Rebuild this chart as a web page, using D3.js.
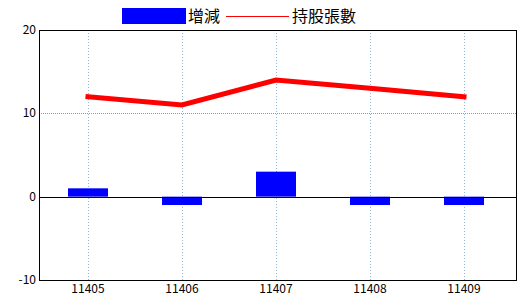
<!DOCTYPE html>
<html>
<head>
<meta charset="utf-8">
<script src="https://cdn.jsdelivr.net/npm/d3@7"></script>
<style>
  body { margin: 0; background: #fff; }
  text { font-family: "Noto Sans CJK TC", "DejaVu Sans", sans-serif; fill: #000; }
</style>
</head>
<body>
<div id="chart"></div>
<script>
var categories = ["11405", "11406", "11407", "11408", "11409"];
var changeValues = [1, -1, 3, -1, -1];      // 增減
var holdingValues = [12, 11, 14, 13, 12];   // 持股張數
var yTicks = [-10, 0, 10, 20];

var width = 520, height = 300;
var plotLeft = 39, plotRight = 516, plotTop = 30, plotBottom = 280;

var svg = d3.select("#chart").append("svg")
    .attr("width", width)
    .attr("height", height);

var x = d3.scalePoint().domain(categories).range([88, 464]);
var y = d3.scaleLinear().domain([-10, 20]).range([plotBottom, plotTop]);

// vertical grid
svg.append("g").selectAll("line")
    .data(categories)
    .enter().append("line")
    .attr("x1", function(d) { return x(d) + 0.5; })
    .attr("x2", function(d) { return x(d) + 0.5; })
    .attr("y1", plotTop)
    .attr("y2", plotBottom)
    .attr("stroke", "#8fb8d4")
    .attr("stroke-dasharray", "1,2");

// horizontal grid (only inner ticks)
svg.append("g").selectAll("line")
    .data([10])
    .enter().append("line")
    .attr("x1", plotLeft)
    .attr("x2", plotRight)
    .attr("y1", function(d) { return Math.round(y(d)) + 0.5; })
    .attr("y2", function(d) { return Math.round(y(d)) + 0.5; })
    .attr("stroke", "#999")
    .attr("stroke-dasharray", "1,1");

// bars
var barW = 40;
svg.append("g").selectAll("rect")
    .data(changeValues)
    .enter().append("rect")
    .attr("x", function(d, i) { return x(categories[i]) - barW / 2; })
    .attr("y", function(d) { return y(Math.max(0, d)); })
    .attr("width", barW)
    .attr("height", function(d) { return Math.abs(y(d) - y(0)); })
    .attr("fill", "#0000ff");

// zero line
svg.append("line")
    .attr("x1", plotLeft).attr("x2", plotRight)
    .attr("y1", Math.round(y(0)) + 0.5).attr("y2", Math.round(y(0)) + 0.5)
    .attr("stroke", "#000");

// holdings line
var line = d3.line()
    .x(function(d, i) { return x(categories[i]); })
    .y(function(d) { return y(d); });

svg.append("path")
    .datum(holdingValues)
    .attr("d", line)
    .attr("fill", "none")
    .attr("stroke", "#ff0000")
    .attr("stroke-width", 5)
    .attr("stroke-linecap", "square");

// frame
svg.append("rect")
    .attr("x", plotLeft + 0.5).attr("y", plotTop + 0.5)
    .attr("width", plotRight - plotLeft).attr("height", plotBottom - plotTop)
    .attr("fill", "none")
    .attr("stroke", "#000");

// y labels
svg.append("g").selectAll("text")
    .data(yTicks)
    .enter().append("text")
    .attr("x", 36)
    .attr("y", function(d) { return y(d) + 4; })
    .attr("text-anchor", "end")
    .style("font-size", "12px")
    .text(function(d) { return d; });

// x labels
svg.append("g").selectAll("text")
    .data(categories)
    .enter().append("text")
    .attr("x", function(d) { return x(d); })
    .attr("y", 293)
    .attr("text-anchor", "middle")
    .style("font-size", "12px")
    .text(function(d) { return d; });

// legend
var legend = svg.append("g");
legend.append("rect")
    .attr("x", 122).attr("y", 8)
    .attr("width", 64).attr("height", 16)
    .attr("fill", "#0000ff");
legend.append("text")
    .attr("x", 188).attr("y", 22)
    .style("font-size", "16px")
    .text("增減");
legend.append("line")
    .attr("x1", 226).attr("x2", 289)
    .attr("y1", 16.5).attr("y2", 16.5)
    .attr("stroke", "#ff0000");
legend.append("text")
    .attr("x", 292).attr("y", 22)
    .style("font-size", "16px")
    .text("持股張數");
</script>
</body>
</html>
